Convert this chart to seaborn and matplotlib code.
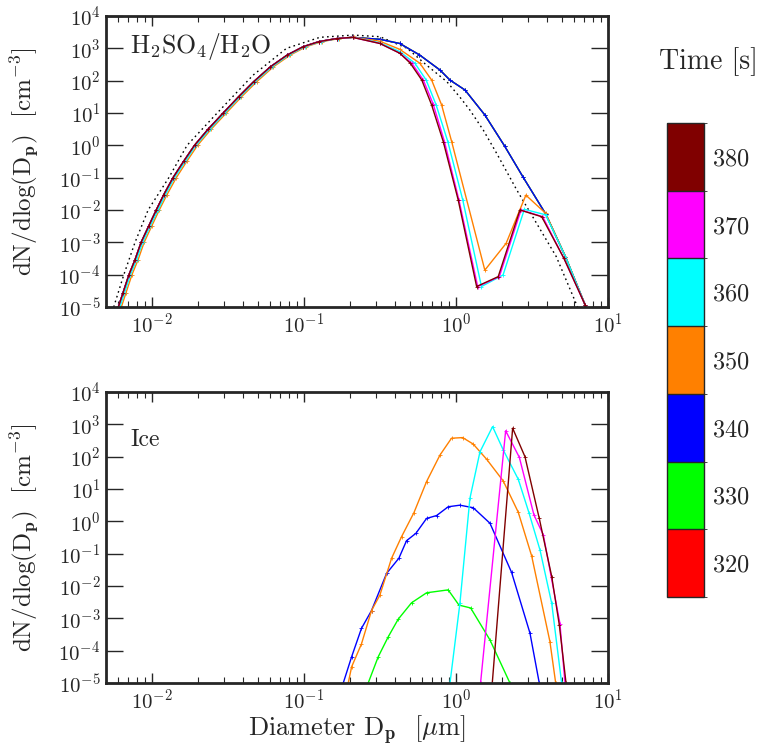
import numpy as np
import matplotlib
matplotlib.use("Agg")
import matplotlib.pyplot as plt
import matplotlib.ticker as mticker
from matplotlib.colors import ListedColormap, BoundaryNorm
from matplotlib.cm import ScalarMappable
import seaborn as sns

sns.set_style("ticks")
plt.rcParams["font.family"] = "serif"
plt.rcParams["font.serif"] = ["cmr10", "DejaVu Serif"]
plt.rcParams["mathtext.fontset"] = "cm"
plt.rcParams["axes.formatter.use_mathtext"] = True
plt.rcParams["axes.unicode_minus"] = False

# times and colours of the colour bar
TIMES = [320, 330, 340, 350, 360, 370, 380]
COLORS = ["#ff0000", "#00ff00", "#0000ff", "#ff8000", "#00ffff", "#ff00ff", "#800000"]

# ---- H2SO4/H2O panel: diameters in um, dN/dlog(Dp) in cm^-3 ----
# rising branch (shared, orange/cyan sit slightly to the right)
LEFT_D = [0.00603, 0.00646, 0.00708, 0.00776, 0.00851, 0.00955, 0.0107, 0.0120, 0.0138,
          0.0162, 0.0191, 0.0234, 0.0295, 0.0372, 0.0468, 0.0603, 0.0776, 0.0989, 0.126,
          0.164, 0.209]
LEFT_D_350 = [0.00631, 0.00676, 0.00741, 0.00813, 0.00891, 0.0100, 0.0112, 0.0126, 0.0145,
              0.0170, 0.0200, 0.0245, 0.0309, 0.0389, 0.0490, 0.0631, 0.0813, 0.1035, 0.132,
              0.170, 0.214]
LEFT_D_360 = [0.00617, 0.00661, 0.00724, 0.00794, 0.00871, 0.00977, 0.0110, 0.0123, 0.0141,
              0.0166, 0.0195, 0.0240, 0.0302, 0.0380, 0.0478, 0.0617, 0.0794, 0.1012, 0.129,
              0.167, 0.211]
LEFT_N = [1e-5, 2.7e-5, 1e-4, 2.9e-4, 1e-3, 3.2e-3, 1e-2, 0.030, 0.1, 0.32, 1.0, 3.1, 10.0,
          31.6, 93.0, 269, 617.0, 1122, 1620.0, 2000, 2190.0]

# falling branches
EARLY_D = [0.316, 0.427, 0.575, 0.785, 0.912, 1.148, 1.549, 2.089, 2.754, 3.89, 5.25, 7.08, 7.41]
EARLY_N = [1905, 1413, 631, 214, 105, 51.3, 8.71, 0.955, 0.107, 7.6e-3, 3.6e-4, 1.15e-5, 6.3e-6]
D_350 = [0.316, 0.427, 0.579, 0.692, 0.805, 0.938, 1.549, 2.138, 2.884, 3.89, 5.25, 7.08, 7.41]
N_350 = [1660, 933, 347, 105, 17.8, 1.29, 1.38e-4, 9.3e-4, 0.0288, 7.9e-3, 3.6e-4, 1.15e-5, 6.3e-6]
D_360 = [0.316, 0.427, 0.537, 0.637, 0.741, 0.885, 1.109, 1.472, 2.042, 2.818, 3.89, 5.25, 7.08, 7.41]
N_360 = [1479, 794, 347, 105, 17.8, 1.29, 0.0204, 4.3e-5, 9.8e-5, 0.0105, 7.1e-3, 3.6e-4, 1.15e-5, 6.3e-6]
D_370 = [0.316, 0.427, 0.513, 0.610, 0.708, 0.841, 1.047, 1.39, 1.93, 2.68, 3.72, 5.13, 7.08, 7.41]
N_370 = [1413, 708, 347, 105, 19.0, 1.29, 0.0204, 4.3e-5, 8.7e-5, 0.0100, 6.2e-3, 3.2e-4, 1.15e-5, 6.3e-6]
D_380 = [0.316, 0.427, 0.501, 0.596, 0.692, 0.826, 1.035, 1.368, 1.897, 2.636, 3.664, 5.13, 7.08, 7.41]
N_380 = [1413, 708, 347, 105, 17.8, 1.29, 0.0204, 4.3e-5, 8.7e-5, 0.0100, 6.2e-3, 3.2e-4, 1.15e-5, 6.3e-6]

# dotted reference distribution
REF_D = [0.00562, 0.00655, 0.00776, 0.00946, 0.01294, 0.01706, 0.02692, 0.04634, 0.07691, 0.1274,
         0.2109, 0.3162, 0.4786, 0.6412, 0.871, 1.062, 1.236, 1.514, 1.854, 2.512, 3.388, 4.571,
         6.166, 6.31]
REF_N = [1e-5, 1e-4, 1e-3, 1e-2, 0.1, 1.0, 10.0, 148, 1000, 2190, 2570, 2290, 1000, 302, 93.3,
         30.9, 12.3, 2.95, 0.562, 0.0417, 3.9e-3, 3.6e-4, 1.29e-5, 1e-5]

# ---- Ice panel ----
ICE_D_330 = [0.2649, 0.3083, 0.3589, 0.4169, 0.5105, 0.6412, 0.8892, 1.047, 1.250, 1.675, 2.265]
ICE_N_330 = [1e-5, 6.46e-5, 2.69e-4, 9.33e-4, 3.02e-3, 6.17e-3, 7.59e-3, 2.57e-3, 2.09e-3, 2.14e-4, 1e-5]
ICE_D_340 = [0.1816, 0.2061, 0.2393, 0.2786, 0.3499, 0.4217, 0.4732, 0.5458, 0.6412, 0.7464,
             0.8892, 1.062, 1.300, 1.675, 2.323, 3.069, 3.532]
ICE_N_340 = [1e-5, 6.46e-5, 4.9e-4, 1.74e-3, 0.0245, 0.0724, 0.251, 0.427, 1.23, 1.51,
             2.82, 3.16, 2.63, 0.871, 0.0263, 3.47e-4, 1e-5]
ICE_D_350 = [0.1959, 0.2061, 0.2393, 0.2786, 0.3162, 0.3776, 0.4395, 0.5297, 0.6412, 0.7852,
             0.9354, 1.107, 1.300, 1.592, 2.046, 2.570, 3.148, 4.150, 4.529]
ICE_N_350 = [1e-5, 3.16e-5, 1.62e-4, 1.74e-3, 5.25e-3, 0.0724, 0.339, 1.86, 17.0, 112,
             372, 389, 245, 83.2, 17.8, 1.91, 0.0851, 1.91e-4, 1e-5]
ICE_D_360 = [0.9141, 1.062, 1.236, 1.439, 1.742, 2.046, 2.570, 3.020, 3.573, 4.266, 4.955]
ICE_N_360 = [1e-5, 2.9e-3, 5.13, 141, 851, 162, 20.0, 1.86, 0.129, 2.88e-3, 1e-5]
ICE_D_370 = [1.452, 2.123, 2.612, 3.258, 3.758, 4.831, 5.212]
ICE_N_370 = [1e-5, 631, 95.5, 1.58, 0.380, 6.9e-4, 1e-5]
ICE_D_380 = [1.734, 2.360, 2.844, 3.532, 4.266, 4.786, 5.297]
ICE_N_380 = [1e-5, 759, 100, 1.23, 0.0195, 6.17e-4, 1e-5]

W, H = 767, 753
fig = plt.figure(figsize=(W / 100, H / 100), dpi=100)
ax1 = fig.add_axes([106 / W, 1 - 307 / H, 502 / W, 291 / H])
ax2 = fig.add_axes([106 / W, 1 - 683 / H, 502 / W, 291 / H])
cax = fig.add_axes([667 / W, 1 - 597 / H, 36.5 / W, 474 / H])


def curve(ax, d, n, c):
    sns.lineplot(x=d, y=n, ax=ax, color=c, sort=False, estimator=None, linewidth=1.0,
                 marker="+", markersize=2.5, markeredgewidth=0.6, markeredgecolor=c)


for ax in (ax1, ax2):
    ax.set_xscale("log")
    ax.set_yscale("log")

# top panel
sns.lineplot(x=REF_D, y=REF_N, ax=ax1, color="black", linewidth=1.0,
             linestyle=(0, (1.2, 2.4)), sort=False, estimator=None)
for c in COLORS[:3]:
    curve(ax1, LEFT_D + EARLY_D, LEFT_N + EARLY_N, c)
curve(ax1, LEFT_D_350 + D_350, LEFT_N + N_350, COLORS[3])
curve(ax1, LEFT_D_360 + D_360, LEFT_N + N_360, COLORS[4])
curve(ax1, LEFT_D + D_370, LEFT_N + N_370, COLORS[5])
curve(ax1, LEFT_D + D_380, LEFT_N + N_380, COLORS[6])

# bottom panel
ice = [(ICE_D_330, ICE_N_330, COLORS[1]), (ICE_D_340, ICE_N_340, COLORS[2]),
       (ICE_D_350, ICE_N_350, COLORS[3]), (ICE_D_360, ICE_N_360, COLORS[4]),
       (ICE_D_370, ICE_N_370, COLORS[5]), (ICE_D_380, ICE_N_380, COLORS[6])]
for d, n, c in ice:
    curve(ax2, d, n, c)

ylabel = r"dN/dlog(D$_{\mathbf{p}}$)  [cm$^{-3}$]"
for ax in (ax1, ax2):
    ax.set_xlim(0.005, 10)
    ax.set_ylim(1e-5, 1e4)
    ax.yaxis.set_major_locator(mticker.LogLocator(base=10, numticks=20))
    ax.yaxis.set_minor_locator(mticker.NullLocator())
    ax.xaxis.set_major_locator(mticker.LogLocator(base=10, numticks=10))
    ax.xaxis.set_minor_locator(mticker.LogLocator(base=10, subs=np.arange(2, 10), numticks=10))
    ax.tick_params(axis="y", which="major", direction="in", length=12.5, width=1.0,
                   left=True, right=True, labelsize=15, pad=4)
    ax.tick_params(axis="x", which="major", direction="in", length=7, width=1.0,
                   top=True, bottom=True, labelsize=15, pad=4)
    ax.tick_params(axis="x", which="minor", direction="in", length=4, width=0.8,
                   top=True, bottom=True)
    for s in ax.spines.values():
        s.set_linewidth(2.0)
        s.set_visible(True)
    ax.set_ylabel(ylabel, fontsize=18)
    ax.yaxis.set_label_coords(-0.13, 0.5)
    ax.set_xlabel("")

ax1.text(0.048, 0.895, r"H$_2$SO$_4$/H$_2$O", transform=ax1.transAxes,
         fontsize=18.5, va="center", ha="left")
ax2.text(0.048, 0.835, "Ice", transform=ax2.transAxes,
         fontsize=17, va="center", ha="left")
ax2.set_xlabel(r"Diameter D$_{\mathbf{p}}$  [$\mu$m]", fontsize=19)
ax2.xaxis.set_label_coords(0.5, -0.102)

# discrete colour bar
bounds = [t - 5 for t in TIMES] + [TIMES[-1] + 5]
cmap = ListedColormap(COLORS)
norm = BoundaryNorm(bounds, cmap.N)
cb = fig.colorbar(ScalarMappable(norm=norm, cmap=cmap), cax=cax, ticks=TIMES, drawedges=True)
cb.outline.set_linewidth(1.0)
cb.dividers.set_linewidth(1.0)
cax.tick_params(length=0, labelsize=17.5, pad=6)
fig.text(708 / W, 1 - 62 / H, "Time [s]", fontsize=20, ha="center", va="center")

fig.savefig("out.png", dpi=100)
